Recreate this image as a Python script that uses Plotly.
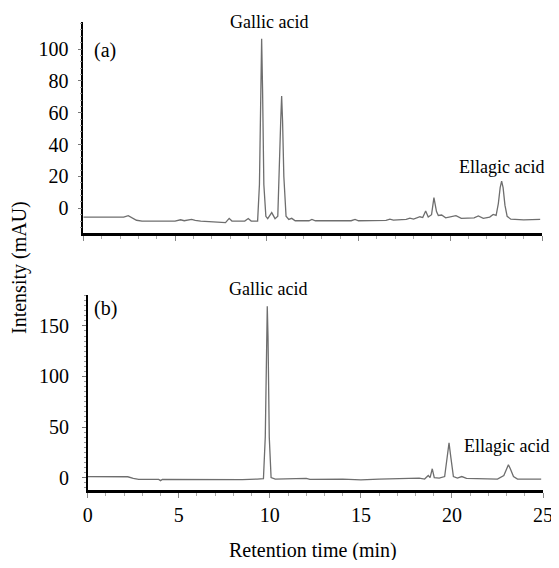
import plotly.graph_objects as go

# Panel (a) chromatogram
a_time = [0, 2.2, 2.45, 2.6, 2.9, 3.2, 5.0, 5.3, 5.5, 5.9, 6.1, 6.4, 7.75, 7.95, 8.1, 8.8, 8.99, 9.15,
          9.5, 9.6, 9.67, 9.72, 9.77, 9.84, 9.95, 10.05, 10.27, 10.45, 10.6, 10.7, 10.76, 10.81, 10.86,
          10.93, 11.05, 11.2, 11.36, 11.55, 12.3, 12.46, 12.65, 14.6, 14.81, 15.0, 16.5, 16.71, 16.9,
          17.6, 17.8, 18.0, 18.35, 18.5, 18.66, 18.8, 18.98, 19.11, 19.25, 19.35, 19.53, 19.75, 20.05,
          20.31, 20.6, 21.3, 21.53, 21.8, 22.15, 22.34, 22.5, 22.62, 22.72, 22.8, 22.88, 22.98, 23.1,
          23.3, 24.0, 24.9]
a_intensity = [-5.5, -5.5, -4.6, -5.5, -7.5, -8.0, -8.0, -7.2, -7.8, -7.0, -7.6, -8.0, -9.0, -6.3, -8.0,
               -8.0, -6.4, -8.0, -8.0, 15, 75, 106.5, 75, 15, -5, -6.5, -2.7, -6.5, -5, 25, 55, 70.5, 55,
               20, -5, -7, -6.3, -7.8, -7.8, -7.0, -7.8, -7.8, -7.0, -7.8, -7.6, -6.8, -7.4, -7.0, -6.2,
               -6.8, -5.3, -5.8, -1.7, -5.5, -4.0, 6.7, -2.0, -4.5, -4.2, -6.0, -5.5, -4.6, -6.3, -6.0,
               -4.8, -6.3, -5.5, -3.8, -4.5, 3, 13, 17.1, 13, 2, -5, -6.8, -7.2, -6.9]

# Panel (b) chromatogram
b_time = [0, 2.2, 2.5, 2.8, 3.9, 4.0, 4.1, 6.5, 7.5, 8.5, 9.3, 9.65, 9.75, 9.82, 9.86, 9.9, 9.97, 10.07,
          10.3, 12.0, 12.2, 14.0, 15.0, 16.0, 17.5, 18.2, 18.5, 18.7, 18.8, 18.92, 19.03, 19.3, 19.6,
          19.74, 19.84, 19.94, 20.08, 20.3, 20.54, 20.8, 22.5, 22.85, 23.0, 23.1, 23.2, 23.38, 23.6, 24.9]
b_intensity = [1.0, 0.8, -0.8, -1.8, -1.8, -3.0, -1.8, -1.8, -2.5, -2.0, -1.5, -1.0, 40, 140, 169.5, 140,
               40, 0, -1.5, -0.8, -1.8, -1.5, -2.2, -1.5, -1.0, -0.5, -1.5, 2.0, 0, 8.7, 0, -0.5, 1,
               20, 34.3, 20, 1, -0.5, 1.0, -0.8, -1.5, 2, 9, 12.7, 9, 1, -1.5, -1.5]

x_ticks = [0, 5, 10, 15, 20, 25]
a_yticks = [0, 20, 40, 60, 80, 100]
b_yticks = [0, 50, 100, 150]

# The page body keeps its default 8 px margin, so the figure is drawn 8 px in.
# Height is kept small enough that no scrollbar appears.
OFF = 8
W, H = 559 - OFF, 568 - 2 * OFF
FONT = "Liberation Serif"
LINE = "#6e6e6e"


def px_x(p):
    return (p - OFF) / W


def px_y(p):
    return 1 - (p - OFF) / H


fig = go.Figure()
fig.add_trace(go.Scatter(x=a_time, y=a_intensity, mode="lines", xaxis="x", yaxis="y",
                         line=dict(color=LINE, width=1.3), showlegend=False))
fig.add_trace(go.Scatter(x=b_time, y=b_intensity, mode="lines", xaxis="x2", yaxis="y2",
                         line=dict(color=LINE, width=1.3), showlegend=False))

common_x = dict(range=[0, 25], tickvals=x_ticks, ticks="outside", ticklen=5, tickcolor="#888",
                tickwidth=1, showline=True, linecolor="black", linewidth=2.5, showgrid=False,
                zeroline=False, automargin=False, ticklabeloverflow="allow",
                minor=dict(dtick=1, ticks="outside", ticklen=3, tickcolor="#aaa", showgrid=False),
                tickfont=dict(family=FONT, size=20, color="black"))
common_y = dict(ticks="outside", ticklen=4, tickcolor="#777", showline=True, linecolor="black",
                linewidth=1.5, showgrid=False, zeroline=False, automargin=False,
                tickfont=dict(family=FONT, size=20, color="black"))


def label(text, x, y, size=18, angle=0):
    return dict(text=text, x=px_x(x), y=px_y(y), xref="paper", yref="paper",
                xanchor="center", yanchor="middle", textangle=angle, showarrow=False,
                font=dict(family=FONT, size=size, color="black"))


fig.update_layout(
    width=W, height=H,
    margin=dict(l=0, r=0, t=0, b=0),
    paper_bgcolor="white", plot_bgcolor="white",
    xaxis=dict(domain=[px_x(83.3), px_x(542)], anchor="y", showticklabels=False, **common_x),
    yaxis=dict(domain=[px_y(233), px_y(22.3)], anchor="x", range=[-15.5, 116.8],
               tickvals=a_yticks, ticklabelstandoff=5,
               minor=dict(dtick=4, ticks="outside", ticklen=2, tickcolor="#999"), **common_y),
    xaxis2=dict(domain=[px_x(87.7), px_x(543)], anchor="y2", showticklabels=True,
                ticklabelstandoff=0, **common_x),
    yaxis2=dict(domain=[px_y(490), px_y(295)], anchor="x2", range=[-12.3, 180.6],
                tickvals=b_yticks, ticklabelstandoff=9,
                minor=dict(dtick=5, ticks="outside", ticklen=2, tickcolor="#999"), **common_y),
    annotations=[
        label("Gallic acid", 268.5, 22),
        label("(a)", 105, 50, size=20),
        label("Ellagic acid", 501, 167),
        label("Gallic acid", 268, 289),
        label("(b)", 105, 308, size=20),
        label("Ellagic acid", 506, 446),
        label("Intensity (mAU)", 19, 268, size=20, angle=-90),
        label("Retention time (min)", 313, 550, size=20),
    ],
)

fig.write_html("out.html")
